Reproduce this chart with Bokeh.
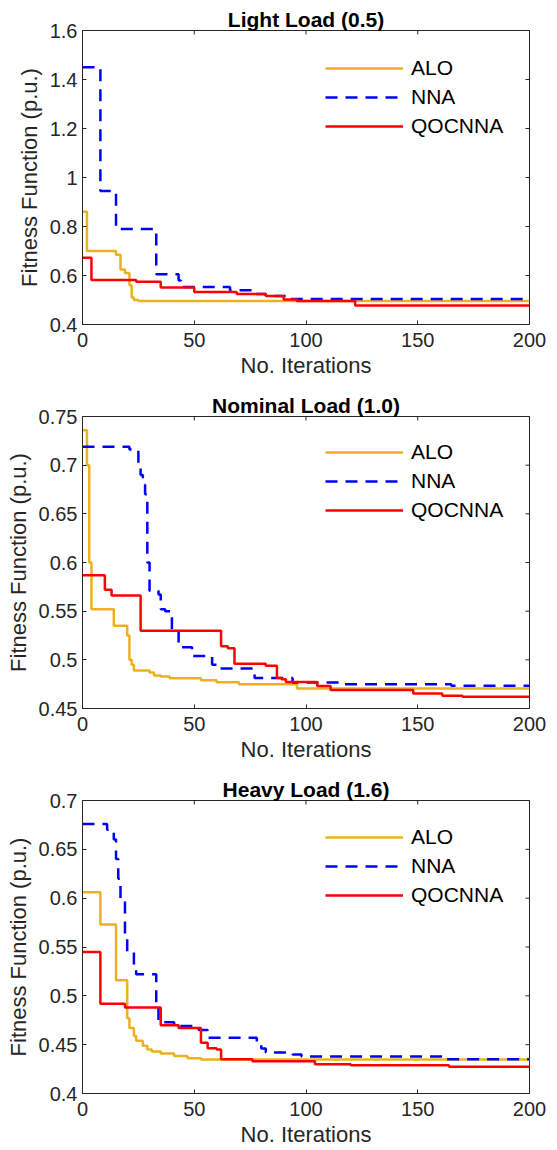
import math
from bokeh.plotting import figure
from bokeh.layouts import column
from bokeh.models import Range1d, FixedTicker, Legend, LegendItem
from bokeh.embed import file_html
from bokeh.resources import INLINE

# ---------------- data ----------------
series_names = ["ALO", "NNA", "QOCNNA"]
x_label = "No. Iterations"
y_label = "Fitness Function (p.u.)"
x_ticks = [0, 50, 100, 150, 200]

# Panel 1 : Light Load (0.5)
light_title = "Light Load (0.5)"
light_y_ticks = [0.4, 0.6, 0.8, 1.0, 1.2, 1.4, 1.6]
light_y_labels = ["0.4", "0.6", "0.8", "1", "1.2", "1.4", "1.6"]
light_alo_it = [0, 2, 15, 17, 19, 21, 22, 23, 25, 200]
light_alo_val = [0.86, 0.70, 0.685, 0.625, 0.61, 0.56, 0.51, 0.50, 0.496, 0.496]
light_nna_it = [0, 8, 14, 15, 33, 43, 44, 66, 76, 82, 93, 200]
light_nna_val = [1.45, 0.945, 0.935, 0.79, 0.605, 0.58, 0.553, 0.54, 0.525, 0.516, 0.504, 0.504]
light_q_it = [0, 4, 24, 35, 50, 69, 82, 90, 96, 122, 200]
light_q_val = [0.672, 0.582, 0.575, 0.551, 0.533, 0.524, 0.516, 0.502, 0.496, 0.478, 0.478]

# Panel 2 : Nominal Load (1.0)
nom_title = "Nominal Load (1.0)"
nom_y_ticks = [0.45, 0.5, 0.55, 0.6, 0.65, 0.7, 0.75]
nom_y_labels = ["0.45", "0.5", "0.55", "0.6", "0.65", "0.7", "0.75"]
nom_alo_it = [0, 2, 3, 4, 14, 20, 21, 22, 23, 30, 32, 35, 39, 53, 60, 70, 96, 200]
nom_alo_val = [0.736, 0.70, 0.60, 0.552, 0.535, 0.525, 0.50, 0.495, 0.489, 0.487, 0.484, 0.483, 0.481,
               0.479, 0.477, 0.475, 0.4705, 0.4705]
nom_nna_it = [0, 21, 25, 26, 27, 28, 29, 30, 34, 35, 37, 40, 43, 44, 49, 58, 60, 77, 94, 115, 165, 200]
nom_nna_val = [0.719, 0.716, 0.70, 0.69, 0.68, 0.67, 0.60, 0.571, 0.567, 0.552, 0.550, 0.53, 0.515,
               0.513, 0.504, 0.495, 0.491, 0.4814, 0.4766, 0.475, 0.4735, 0.473]
nom_q_it = [0, 10, 13, 26, 62, 65, 68, 82, 87, 89, 91, 105, 111, 148, 161, 170, 200]
nom_q_val = [0.587, 0.572, 0.566, 0.530, 0.514, 0.512, 0.496, 0.494, 0.4814, 0.480, 0.4773, 0.473,
             0.469, 0.4654, 0.463, 0.462, 0.462]

# Panel 3 : Heavy Load (1.6)
heavy_title = "Heavy Load (1.6)"
heavy_y_ticks = [0.4, 0.45, 0.5, 0.55, 0.6, 0.65, 0.7]
heavy_y_labels = ["0.4", "0.45", "0.5", "0.55", "0.6", "0.65", "0.7"]
heavy_alo_it = [0, 8, 15, 20, 21, 23, 24, 27, 29, 31, 35, 41, 47, 53, 200]
heavy_alo_val = [0.606, 0.573, 0.516, 0.477, 0.467, 0.459, 0.454, 0.449, 0.445, 0.443, 0.441, 0.4385,
                 0.436, 0.4347, 0.4347]
heavy_nna_it = [0, 11, 14, 15, 16, 17, 19, 20, 23, 24, 33, 34, 35, 41, 52, 56, 78, 80, 82, 94, 98, 163, 200]
heavy_nna_val = [0.676, 0.67, 0.66, 0.64, 0.62, 0.60, 0.56, 0.545, 0.53, 0.522, 0.49, 0.475, 0.473, 0.469,
                 0.465, 0.457, 0.45, 0.446, 0.442, 0.44, 0.438, 0.435, 0.435]
heavy_q_it = [0, 8, 19, 35, 43, 53, 56, 60, 62, 76, 104, 120, 164, 200]
heavy_q_val = [0.545, 0.492, 0.488, 0.470, 0.467, 0.452, 0.4463, 0.445, 0.435, 0.433, 0.430, 0.429,
               0.4273, 0.4273]

# ---------------- style ----------------
FONT = "Liberation Sans"
AX = "#262626"
COL_ALO = "#EDB120"
COL_NNA = "#0000FF"
COL_Q = "#FF0000"


def make_panel(title, yticks, ylabels, alo, nna, q, fig_h, border_t, border_b, leg_y):
    p = figure(width=549, height=fig_h,
               x_range=Range1d(x_ticks[0], x_ticks[-1]), y_range=Range1d(yticks[0], yticks[-1]),
               output_backend="svg", toolbar_location=None, title=title,
               min_border_left=82, min_border_right=20, min_border_top=border_t,
               min_border_bottom=border_b,
               background_fill_color="white", border_fill_color="white")
    p.title.text_font = FONT
    p.title.text_font_size = "21px"
    p.title.text_font_style = "bold"
    p.title.text_color = "black"
    p.title.align = "center"
    p.title.standoff = 0
    p.xgrid.visible = False
    p.ygrid.visible = False
    p.outline_line_color = AX
    p.outline_line_width = 1
    p.outline_line_alpha = 1

    for ax in (p.xaxis[0], p.yaxis[0]):
        ax.axis_line_color = AX
        ax.major_tick_line_color = AX
        ax.major_tick_in = 4
        ax.major_tick_out = 0
        ax.minor_tick_line_color = None
        ax.major_label_text_font = FONT
        ax.major_label_text_font_size = "20px"
        ax.major_label_text_color = AX
        ax.axis_label_text_font = FONT
        ax.axis_label_text_font_size = "22px"
        ax.axis_label_text_font_style = "normal"
        ax.axis_label_text_color = AX
    p.xaxis.ticker = FixedTicker(ticks=x_ticks)
    p.xaxis.major_label_standoff = 8
    p.xaxis.axis_label = x_label
    p.xaxis.axis_label_standoff = 3
    p.yaxis.ticker = FixedTicker(ticks=yticks)
    p.yaxis.major_label_overrides = {t: l for t, l in zip(yticks, ylabels)}
    p.yaxis.major_label_standoff = 5
    p.yaxis.axis_label = y_label
    p.yaxis.axis_label_standoff = 5

    # mirrored inward tick marks on the top and right edges of the box
    p.scatter(x=x_ticks, y=[yticks[-1]] * len(x_ticks), marker="dash", angle=math.pi / 2,
              size=8, line_color=AX, line_width=1)
    p.scatter(x=[x_ticks[-1]] * len(yticks), y=yticks, marker="dash",
              size=8, line_color=AX, line_width=1)

    r1 = p.step(alo[0], alo[1], mode="after", line_color=COL_ALO, line_width=2.5)
    r2 = p.step(nna[0], nna[1], mode="after", line_color=COL_NNA, line_width=2.5,
                line_dash="12 8")
    r3 = p.step(q[0], q[1], mode="after", line_color=COL_Q, line_width=2.5)

    leg = Legend(items=[LegendItem(label=series_names[0], renderers=[r1]),
                        LegendItem(label=series_names[1], renderers=[r2]),
                        LegendItem(label=series_names[2], renderers=[r3])],
                 location=(243, leg_y), padding=0, margin=0, spacing=5,
                 glyph_width=78, glyph_height=24, label_height=24, label_standoff=8,
                 label_text_font=FONT, label_text_font_size="21px", label_text_color="black",
                 border_line_color=None, background_fill_alpha=0)
    p.add_layout(leg)
    return p


p1 = make_panel(light_title, light_y_ticks, light_y_labels,
                (light_alo_it, light_alo_val), (light_nna_it, light_nna_val),
                (light_q_it, light_q_val), 391, 30, 67, 186)
p2 = make_panel(nom_title, nom_y_ticks, nom_y_labels,
                (nom_alo_it, nom_alo_val), (nom_nna_it, nom_nna_val),
                (nom_q_it, nom_q_val), 384, 24, 67, 186)
p3 = make_panel(heavy_title, heavy_y_ticks, heavy_y_labels,
                (heavy_alo_it, heavy_alo_val), (heavy_nna_it, heavy_nna_val),
                (heavy_q_it, heavy_q_val), 375, 24, 57, 186)

layout = column(p1, p2, p3, spacing=0)
open("out.html", "w").write(file_html(layout, INLINE))
